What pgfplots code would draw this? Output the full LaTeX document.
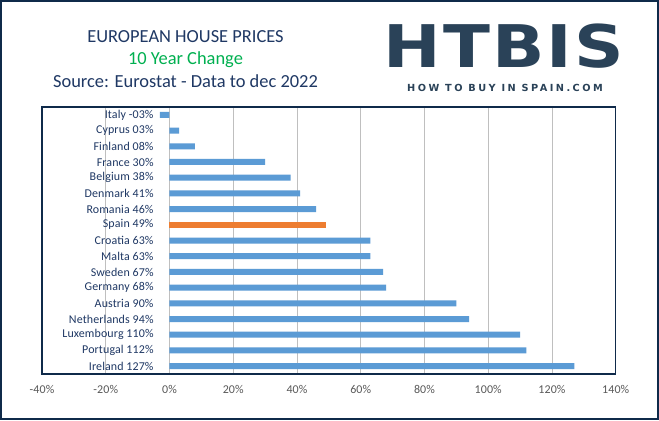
\documentclass[border=0pt]{standalone}
\usepackage{pgfplots}
\pgfplotsset{compat=1.18}
\usepackage{fontspec}
\setmainfont{Carlito}
\newfontfamily\labelfont[LetterSpace=1]{Carlito}
\newfontfamily\logofont[LetterSpace=3]{DejaVu Sans}
\newfontfamily\logosubfont[LetterSpace=25]{DejaVu Sans}
\definecolor{navy}{HTML}{0F2A4A}
\definecolor{barblue}{HTML}{5B9BD5}
\definecolor{barorange}{HTML}{ED7D31}
\definecolor{titlegreen}{HTML}{00B050}
\definecolor{titlenavy}{HTML}{1F3864}
\definecolor{logocol}{HTML}{2A4258}
\definecolor{gridgray}{HTML}{BFBFBF}
\definecolor{ticktext}{HTML}{595959}
\begin{document}
\begin{tikzpicture}[x=1bp,y=1bp]
\useasboundingbox (0,0) rectangle (659,420);
\fill[white] (0,0) rectangle (659,420);
\draw[navy, line width=2bp] (1,1) rectangle (658,419);
% titles
\node[text=titlenavy, font=\fontsize{18.5}{22}\selectfont] at (185.5,383) {EUROPEAN HOUSE PRICES};
\node[text=titlegreen, font=\fontsize{18.5}{22}\selectfont] at (185.5,360.5) {10 Year Change};
\node[text=titlenavy, font=\fontsize{18.5}{22}\selectfont] at (185.5,339) {Source: Eurostat - Data to dec 2022};
% logo
\node[text=logocol, anchor=base, inner sep=0pt] at (504,353) {\scalebox{1.17}[1]{\logofont\fontsize{59}{59}\selectfont\bfseries HTBIS}};
\node[text=logocol, anchor=base, inner sep=0pt] at (505,328.5) {\logosubfont\fontsize{9.8}{10}\selectfont\bfseries HOW TO BUY IN SPAIN.COM};
\begin{axis}[
  at={(42bp,46bp)}, anchor=south west,
  scale only axis, width=573.7bp, height=267bp,
  xbar, bar width=6bp, bar shift=0pt,
  y dir=reverse,
  xmin=-40, xmax=140, ymin=-0.5, ymax=16.5,
  xtick={-40,-20,0,20,40,60,80,100,120,140},
  xticklabels={-40\%,-20\%,0\%,20\%,40\%,60\%,80\%,100\%,120\%,140\%},
  ytick={0,1,...,16},
  yticklabels={Italy -03\%, Cyprus 03\%, Finland 08\%, France 30\%, Belgium 38\%, Denmark 41\%, Romania 46\%, Spain 49\%, Croatia 63\%, Malta 63\%, Sweden 67\%, Germany 68\%, Austria 90\%, Netherlands 94\%, Luxembourg 110\%, Portugal 112\%, Ireland 127\%},
  xmajorgrids, major grid style={gridgray, line width=0.9bp},
  tick style={draw=none},
  axis line style={navy, line width=1.3bp},
  xticklabel style={font=\labelfont\fontsize{12}{14}\selectfont, text=ticktext, yshift=-8bp},
  yticklabel style={anchor=east, inner sep=0pt, xshift=116bp, font=\labelfont\fontsize{12}{14}\selectfont, text=titlenavy},
]
\addplot[fill=barblue, draw=none] coordinates {(-3,0) (3,1) (8,2) (30,3) (38,4) (41,5) (46,6) (63,8) (63,9) (67,10) (68,11) (90,12) (94,13) (110,14) (112,15) (127,16)};
\addplot[fill=barorange, draw=none] coordinates {(49,7)};
\end{axis}
\end{tikzpicture}
\end{document}
